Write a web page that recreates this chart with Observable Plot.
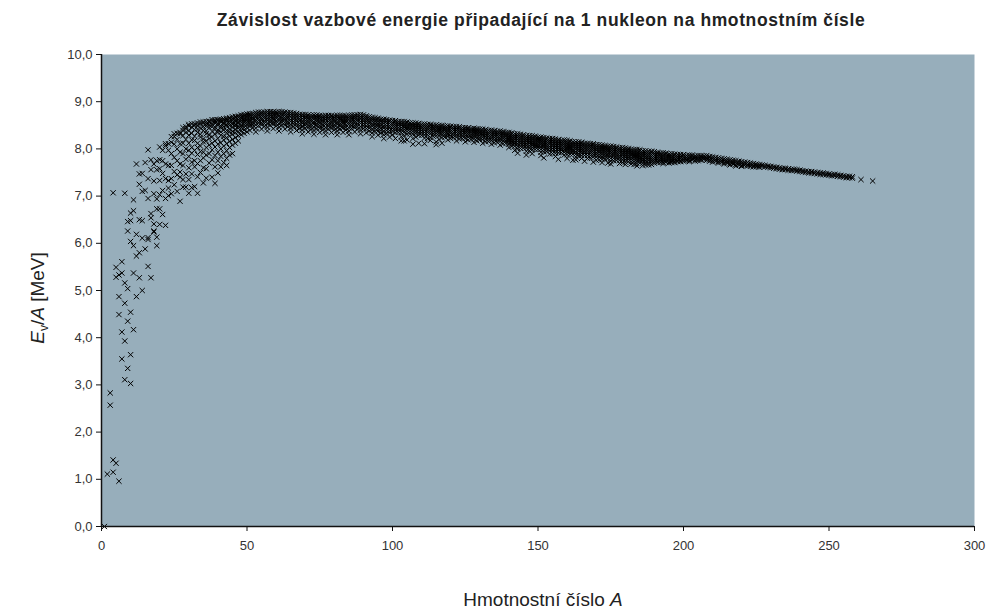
<!DOCTYPE html>
<html><head><meta charset="utf-8">
<script src="https://cdn.jsdelivr.net/npm/d3@7"></script>
<script src="https://cdn.jsdelivr.net/npm/@observablehq/plot@0.6"></script>
<style>
body{margin:0;background:#fff;}
#chart svg{font-family:"Liberation Sans",Arial,Helvetica,sans-serif;}
</style>
</head><body><div id="chart"></div>
<script>
// Each row: "A:list of E_v/A values ×100 (MeV)"
const lightNuclei = [
"1:0","2:111","3:257 283","4:115 141 707","5:134 528 549","6:96 449 487 533",
"7:355 412 537 561","8:311 393 473 516 706","9:335 435 504 626 646",
"10:303 364 454 604 648 664","11:417 537 595 669 692","12:487 573 619 768",
"13:527 580 650 725 747","14:500 611 648 710 748","15:588 712 771",
"16:551 608 612 695 737 798","17:527 654 663 756 777","18:624 626 641 705 732 768",
"19:595 613 673 694 756 775","20:804 777 758 733 703 673 640","21:797 775 748 712 661",
"22:811 807 768 737 695 638","23:811 797 765 733 717 701",
"24:826 814 790 765 737 705","25:832 826 810 782 752 724",
"26:833 820 800 775 745 710","27:835 832 811 793 768 751 740 689",
"28:845 839 828 812 790 765 735 719","29:847 843 835 820 800 778 747 719"
];
const band30to49 = [
"30:852 849 838 829 812 797 784 760 735 706","31:853 846 833 819 803 791 772 747 718",
"32:853 850 841 827 818 797 775 762 720","33:855 850 842 835 812 803 788 769 741 706",
"34:857 853 844 831 825 806 794 775 750","35:857 855 847 839 821 815 793 781 760 728",
"36:858 854 849 838 832 817 803 787 758 738","37:859 857 850 845 829 822 808 790 770",
"38:862 858 852 847 837 826 812 798 777 740","39:862 859 855 846 841 831 817 804 786 762 727",
"40:862 860 854 850 840 835 822 810 793 775 749","41:863 860 857 849 845 836 829 813 800 784 762",
"42:864 861 856 853 847 840 826 819 806 790 771","43:865 862 859 852 849 839 834 824 811 796 780 765",
"44:866 864 859 854 850 842 836 827 816 803 787","45:868 864 861 855 852 846 837 831 820 808 790",
"46:869 866 861 858 852 848 841 834 824 812","47:870 867 862 857 855 848 844 836 828 817",
"48:872 868 865 860 856 849 845 838 830","49:873 870 865 861 857 852 846 840 833"
];
const band50to99 = [
"50:874 870 866 861 856 851 845 836","51:875 872 868 863 859 853 848 839",
"52:875 871 866 862 856 851 845","53:877 873 868 862 858 851 844 836",
"54:878 874 870 865 860 855 849","55:878 875 871 866 862 856 851 842",
"56:878 874 869 865 859 854 848","57:879 875 870 864 860 853 846 838",
"58:879 875 871 866 861 856 850","59:879 876 872 867 863 857 852 843",
"60:878 874 869 865 859 854 848","61:879 875 870 864 860 853 846 838",
"62:879 875 871 866 861 856 850","63:878 875 871 866 862 856 851 842",
"64:877 873 868 864 858 853 847","65:877 873 868 862 858 851 844 836",
"66:876 872 868 863 858 853 847","67:875 872 868 863 859 853 848 839",
"68:873 869 864 860 854 849 843","69:873 869 864 858 854 847 840 832",
"70:873 869 865 860 855 850 844","71:872 869 865 860 856 850 845 836",
"72:871 867 862 858 852 847 841","73:872 868 863 857 853 846 839 831",
"74:872 868 864 859 854 849 843","75:871 868 864 859 855 849 844 835",
"76:870 866 861 857 851 846 840","77:871 867 862 856 852 845 838 830",
"78:871 867 863 858 853 848 842","79:871 868 864 859 855 849 844 835",
"80:870 866 861 857 851 846 840","81:871 867 862 856 852 845 838 830",
"82:871 867 863 858 853 848 842","83:871 868 864 859 855 849 844 835",
"84:870 866 861 857 851 846 840","85:871 867 862 856 852 845 838 830",
"86:872 868 864 859 854 849 843","87:872 869 865 860 856 850 845 836",
"88:872 868 863 859 853 848 842","89:873 869 864 858 854 847 840 832",
"90:872 868 864 859 854 849 843","91:870 867 863 858 854 848 843 834",
"92:868 864 859 855 849 844 838","93:867 863 858 852 848 841 834 826",
"94:866 862 858 853 848 843 837","95:865 862 858 853 849 843 838 829",
"96:863 859 854 850 844 839 833","97:863 859 854 848 844 837 830 822",
"98:862 858 854 849 844 839 833","99:861 858 854 849 845 839 834 825"
];
const band100to139 = [
"100:860 856 852 848 843 838 830","101:860 857 853 849 845 840 834 822",
"102:858 854 850 845 840 835","103:858 854 850 845 840 835 826 817",
"104:858 854 850 846 841 836 828 817","105:857 854 850 846 842 837 831 819",
"106:855 851 847 842 837 832","107:855 851 847 842 837 832 822 810",
"108:855 851 847 843 838 833 825","109:854 851 847 843 839 834 829 812",
"110:852 848 844 839 834 829","111:853 849 845 840 835 830 823 811",
"112:852 848 844 840 835 830 822","113:852 849 845 841 837 832 824 818",
"114:850 846 842 837 832 827","115:851 847 843 838 833 828 815 809",
"116:850 846 842 838 833 828 820","117:850 847 843 839 835 830 824 812",
"118:848 844 840 835 830 825","119:849 845 841 837 832 827 819",
"120:848 845 841 837 833 828 822","121:847 843 839 834 829 824",
"122:847 843 839 835 830 825 817","123:847 844 840 836 832 827 821",
"124:845 841 837 832 827 822","125:845 841 837 833 828 823 815",
"126:845 842 838 834 830 825 819","127:843 839 835 830 825 820",
"128:844 840 836 832 827 822 814","129:843 840 836 832 828 823 817",
"130:842 838 834 829 824 819","131:842 838 834 830 825 820 812",
"132:841 838 834 830 826 821 815","133:839 835 831 826 821 816",
"134:840 836 832 828 823 818 810","135:839 836 832 828 824 819 813",
"136:837 833 829 824 819 814","137:838 834 830 826 821 816 808",
"138:837 834 830 826 822 817 811","139:835 831 827 822 817 812"
];
const band140to189 = [
"140:835 831 827 823 819 815 810 803","141:834 831 827 823 819 815 811 806",
"142:832 828 824 820 815 811 806 797","143:832 828 824 820 816 811 806 800 791",
"144:831 827 823 819 815 811 806 801","145:830 827 823 819 815 811 807 802",
"146:828 824 820 816 811 807 802 795 787","147:828 824 820 816 812 807 802 796",
"148:828 824 820 816 812 808 803 798 790","149:827 824 820 816 812 808 804 799",
"150:825 821 817 813 808 804 799","151:825 821 817 813 809 804 799 793 786",
"152:824 820 816 812 808 804 799 794 781","153:823 820 816 812 808 804 800 795",
"154:822 818 814 810 805 801 796 789","155:822 818 814 810 806 801 796 790",
"156:821 817 813 809 805 801 796 791 784","157:820 817 813 809 805 801 797 792 778",
"158:818 814 810 806 801 797 792","159:819 815 811 807 803 798 793 787",
"160:818 814 810 806 802 798 793 788 780","161:817 814 810 806 802 798 794 789",
"162:815 811 807 803 798 794 789 776","163:815 811 807 803 799 794 789 783 777",
"164:815 811 807 803 799 795 790 785","165:814 811 807 803 799 795 791 786 780",
"166:812 808 804 800 795 791 786 774","167:812 808 804 800 796 791 786 780",
"168:811 807 803 799 795 791 786 781","169:811 808 804 800 796 792 788 783 772",
"170:809 805 801 797 792 788 783 776","171:809 805 801 797 793 788 783 777",
"172:808 804 800 796 792 788 783 778 771","173:807 804 800 796 792 788 784 779",
"174:806 802 798 794 789 785 780 770","175:806 802 798 794 790 785 780 774 768",
"176:805 801 797 793 789 785 780 775","177:804 801 797 793 789 785 781 776",
"178:802 798 794 790 785 781 776 769","179:803 799 795 791 787 782 777 771",
"180:802 798 794 790 786 782 777 772 767","181:801 798 794 790 786 782 778 773",
"182:799 795 791 787 782 778 773 768","183:799 795 791 787 783 778 773 767",
"184:799 795 791 787 783 779 774 769 764","185:798 795 791 787 783 779 775 770",
"186:796 792 788 784 779 775 770 765","187:796 792 788 784 780 775 770 766",
"188:795 791 787 783 779 775 770 766","189:795 792 788 784 780 776 772 767"
];
const band190to229 = [
"190:794 790 786 782 778 774 770","191:793 790 786 782 778 774 771",
"192:791 787 783 779 775 771","193:792 788 784 780 776 772 769",
"194:791 788 784 780 776 772","195:789 785 781 777 773 770",
"196:790 786 782 778 774 771","197:789 786 782 778 774 771",
"198:788 784 780 776 773","199:788 784 780 776 773",
"200:788 785 781 777 774","201:786 782 778 775",
"202:787 783 779 776 773","203:787 784 780 777",
"204:785 781 777 774","205:786 782 778 775",
"206:786 783 779 776","207:785 781 778",
"208:786 782 779 776","209:784 781 777 774",
"210:783 779 775 772","211:782 778 774","212:781 777 773 770","213:780 776 772",
"214:779 775 771 768","215:778 774 770","216:777 773 769 766","217:776 772 768",
"218:775 771 767 764","219:774 770 766","220:773 769 765 763","221:772 768 765",
"222:771 767 764","223:770 766 763","224:769 765 762","225:768 765 762",
"226:767 764 761","227:766 763","228:765 762","229:764 761"
];
const band230to265 = [
"230:763 760","231:762 759","232:761 758","233:760 757","234:759 756","235:759 756",
"236:758 755","237:757 754","238:757 754","239:756 753","240:755 752","241:754 751",
"242:753 750","243:752 749","244:752 749","245:751 748","246:750 747","247:749 746",
"248:749 746","249:748 745","250:747 744","251:746 743","252:746 743","253:745 742",
"254:744 741","255:743 740","256:742 739","257:742 739","258:741 738","261:735","265:732"
];
const xTicks = [0, 50, 100, 150, 200, 250, 300];
const yTicks = [0, 1, 2, 3, 4, 5, 6, 7, 8, 9, 10];

function rows(list) {
  return list.flatMap(r => {
    const [a, vals] = r.split(":");
    return vals.trim().split(/\s+/).map(v => ({A: +a, E: +v / 100}));
  });
}
const nuclides = [lightNuclei, band30to49, band50to99, band100to139, band140to189, band190to229, band230to265].flatMap(rows);

const chart = Plot.plot({
  width: 992, height: 614,
  marginTop: 54, marginBottom: 88, marginLeft: 101, marginRight: 18,
  style: {fontFamily: '"Liberation Sans", Arial, Helvetica, sans-serif', fontSize: "13px", color: "#333", background: "#fff"},
  x: {domain: [0, 300]},
  y: {domain: [0, 10]},
  marks: [
    Plot.frame({fill: "#97aebb", stroke: null}),
    Plot.dot(nuclides, {x: "A", y: "E", symbol: "times", r: 2.5, stroke: "#000", strokeWidth: 1}),
    Plot.ruleY([0], {stroke: "#111", strokeWidth: 1.5}),
    Plot.ruleX([0], {stroke: "#111", strokeWidth: 1.5}),
    Plot.axisX({ticks: xTicks, tickSize: 5, tickPadding: 9, label: null, stroke: "#111"}),
    Plot.axisY({ticks: yTicks, tickSize: 5, tickPadding: 4, label: null, stroke: "#111",
      tickFormat: d => d.toFixed(1).replace(".", ",")})
  ]
});
document.getElementById("chart").appendChild(chart);

const svg = d3.select(chart);
svg.append("text")
  .attr("x", 541).attr("y", 26).attr("text-anchor", "middle")
  .attr("font-weight", "bold").attr("font-size", 17.5).attr("letter-spacing", 0.6).attr("fill", "#222")
  .text("Závislost vazbové energie připadající na 1 nukleon na hmotnostním čísle");
const xl = svg.append("text")
  .attr("x", 543).attr("y", 606).attr("text-anchor", "middle")
  .attr("font-size", 19).attr("fill", "#222");
xl.append("tspan").text("Hmotnostní číslo ");
xl.append("tspan").attr("font-style", "italic").text("A");
const yl = svg.append("text")
  .attr("transform", "translate(44,298) rotate(-90)").attr("text-anchor", "middle")
  .attr("font-size", 19).attr("fill", "#222");
yl.append("tspan").attr("font-style", "italic").text("E");
yl.append("tspan").attr("font-size", 12).attr("dy", 4).text("v");
yl.append("tspan").attr("dy", -4).text("/");
yl.append("tspan").attr("font-style", "italic").text("A");
yl.append("tspan").text(" [MeV]");
</script>
</body></html>
